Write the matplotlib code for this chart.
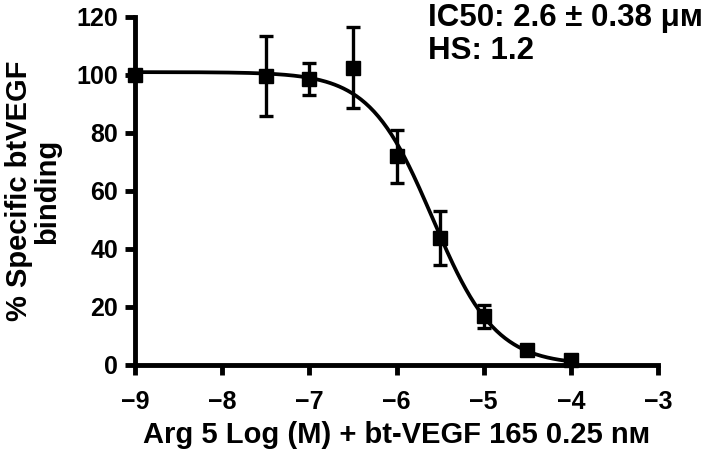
import numpy as np
import matplotlib
matplotlib.use("Agg")
import matplotlib.pyplot as plt

plt.rcParams["font.family"] = ["Liberation Sans", "DejaVu Sans"]
plt.rcParams["font.weight"] = "bold"

# measured points: log concentration, % binding, error
log_conc = [-9.0, -7.5, -7.0, -6.5, -6.0, -5.5, -5.0, -4.5, -4.0]
binding  = [100.0, 99.6, 98.6, 102.5, 72.0, 43.8, 16.8, 5.2, 1.6]
err      = [0.0, 13.8, 5.6, 14.0, 9.2, 9.3, 4.0, 0.8, 0.5]

# fit parameters (4PL)
IC50_UM = 2.6
HILL    = 1.2
TOP     = 101.0
BOTTOM  = 0.0

xfit = np.linspace(-9, -4, 300)
log_ic50 = np.log10(IC50_UM * 1e-6)
yfit = BOTTOM + (TOP - BOTTOM) / (1 + 10 ** ((xfit - log_ic50) * HILL))

fig = plt.figure(figsize=(7.09, 4.57), dpi=100)
ax = fig.add_axes([135 / 709, 1 - 365 / 457, (658 - 135) / 709, (365 - 17) / 457])

ax.plot(xfit, yfit, color="black", lw=2.7, zorder=2)
ax.errorbar(log_conc, binding, yerr=err, fmt="s", color="black", ms=10,
            elinewidth=2.4, capsize=5, capthick=2.4, zorder=3, clip_on=False)

ax.set_xlim(-9, -3)
ax.set_ylim(0, 120)
ax.set_xticks(range(-9, -2))
ax.set_yticks(range(0, 121, 20))
for s in ["top", "right"]:
    ax.spines[s].set_visible(False)
for s in ["left", "bottom"]:
    ax.spines[s].set_linewidth(3.5)
ax.tick_params(width=3.5, length=7, labelsize=18)
ax.tick_params(axis="x", pad=11)
ax.tick_params(axis="y", pad=5)
for lab in ax.get_xticklabels() + ax.get_yticklabels():
    lab.set_fontweight("bold")

ax.set_xlabel("Arg 5 Log (M) + bt-VEGF 165 0.25 n\u1d0d", fontsize=21,
              fontweight="bold", labelpad=5)
ax.set_ylabel("% Specific btVEGF\nbinding", fontsize=21, fontweight="bold",
              labelpad=11, linespacing=1.0)

fig.text(428 / 709, 1 - 18 / 457, "IC50: 2.6 \u00b1 0.38 \u03bc\u1d0d",
         fontsize=22.5, fontweight="bold", va="center", ha="left")
fig.text(428 / 709, 1 - 51 / 457, "HS: 1.2",
         fontsize=22.5, fontweight="bold", va="center", ha="left")

fig.savefig("out.png", dpi=100)
